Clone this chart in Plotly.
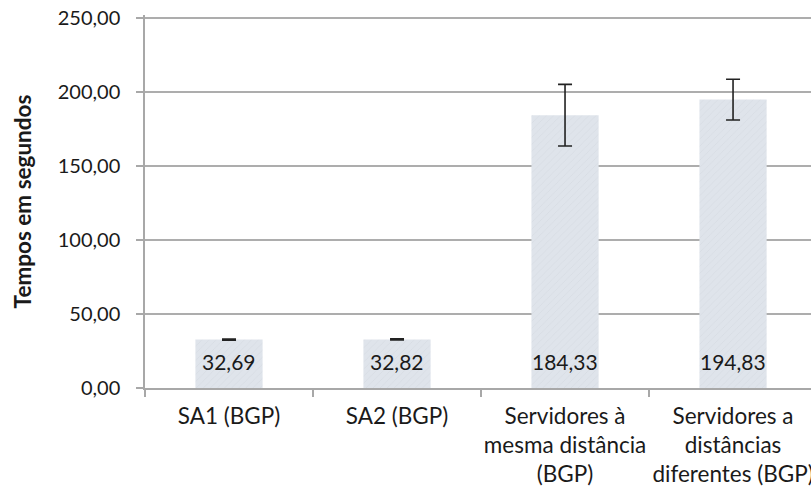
import plotly.graph_objects as go

categories = ["SA1 (BGP)", "SA2 (BGP)", "Servidores à<br>mesma distância<br>(BGP)",
              "Servidores a<br>distâncias<br>diferentes (BGP)"]
values = [32.69, 32.82, 184.33, 194.83]
errors = [0.4, 0.4, 20.8, 13.8]
labels = ["32,69", "32,82", "184,33", "194,83"]

FONT = "Lato"
TXT = "#1a1a1a"
fig = go.Figure()
fig.add_trace(go.Bar(
    x=categories, y=values, width=0.4,
    marker=dict(color="#dde3ea", line=dict(width=0),
                pattern=dict(shape="/", fgcolor="#ccd3dc", bgcolor="#dfe4eb", size=5, solidity=0.15)),
    error_y=dict(type="data", array=errors, visible=True, color="#222222", thickness=1.6, width=7),
    cliponaxis=False,
))
for c, t in zip(categories, labels):
    fig.add_annotation(x=c, y=0, text=t, showarrow=False, yanchor="bottom", yshift=12,
                       font=dict(family=FONT, size=21, color=TXT))

fig.update_layout(
    width=811, height=489,
    margin=dict(l=145, r=0, t=15, b=101),
    plot_bgcolor="white", paper_bgcolor="white",
    separators=",.",
    showlegend=False,
    font=dict(family=FONT, size=20, color=TXT),
)
fig.update_xaxes(
    range=[-0.5, 3.464], showline=True, linecolor="#a8a8a8", linewidth=1.5,
    ticks="outside", tickson="boundaries", ticklen=7, tickcolor="#a8a8a8", tickwidth=1.5,
    showgrid=False, tickangle=0, automargin=False, ticklabelstandoff=7,
    tickfont=dict(family=FONT, size=22.5, color=TXT),
)
fig.update_yaxes(
    range=[0, 252.0], dtick=50, tickformat=".2f",
    showline=True, linecolor="#a8a8a8", linewidth=1.5,
    ticks="outside", ticklen=7, tickcolor="#a8a8a8", tickwidth=1.5,
    showgrid=True, gridcolor="#adadad", gridwidth=1.7, zeroline=False,
    ticklabelstandoff=12, automargin=False,
    tickfont=dict(family=FONT, size=20, color=TXT),
    title=dict(text="<b>Tempos em segundos</b>", font=dict(family=FONT, size=22.5, color=TXT), standoff=20),
)
fig.write_html("out.html", config={"displayModeBar": False},
               post_script="document.body.style.margin='0';document.body.style.overflow='hidden';")
